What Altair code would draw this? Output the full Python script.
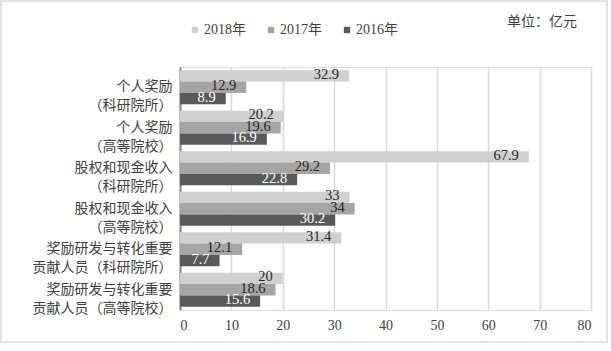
import altair as alt
import pandas as pd

categories = [
    "个人奖励\n（科研院所）",
    "个人奖励\n（高等院校）",
    "股权和现金收入\n（科研院所）",
    "股权和现金收入\n（高等院校）",
    "奖励研发与转化重要\n贡献人员（科研院所）",
    "奖励研发与转化重要\n贡献人员（高等院校）",
]
series = ["2018年", "2017年", "2016年"]
v2018 = [32.9, 20.2, 67.9, 33, 31.4, 20]
v2017 = [12.9, 19.6, 29.2, 34, 12.1, 18.6]
v2016 = [8.9, 16.9, 22.8, 30.2, 7.7, 15.6]
colors = ["#d0d0d0", "#a5a5a5", "#595959"]
x_ticks = [0, 10, 20, 30, 40, 50, 60, 70, 80]
unit_text = ["单位：亿元"]

rows = []
for s, vals in zip(series, [v2018, v2017, v2016]):
    for c, v in zip(categories, vals):
        rows.append({"category": c, "series": s, "value": v, "label": f"{v:g}"})
df = pd.DataFrame(rows)

FONT = '"Liberation Serif", "Noto Sans CJK SC", serif'
TXT = "#404040"

label_expr = (
    "[split(datum.label,'\\n')[0] + "
    "(length(split(datum.label,'\\n')[0]) < length(split(datum.label,'\\n')[1]) ? '\u3000' : ''), "
    "split(datum.label,'\\n')[1]]"
)

y_enc = alt.Y(
    "category:N",
    sort=categories,
    scale=alt.Scale(paddingInner=0.16, paddingOuter=0.08),
    axis=alt.Axis(
        title=None,
        labelExpr=label_expr,
        labelFontSize=14,
        labelLineHeight=19,
        labelPadding=8,
        labelColor=TXT,
        labelFont=FONT,
        labelLimit=300,
        ticks=False,
        grid=False,
        domain=True,
        domainColor="#868686",
        domainWidth=2,
    ),
)
x_enc = alt.X(
    "value:Q",
    scale=alt.Scale(domain=[0, 80], nice=False),
    axis=alt.Axis(
        title=None,
        values=x_ticks,
        grid=True,
        gridColor="#d9d9d9",
        gridWidth=1.5,
        domain=False,
        ticks=False,
        labelFontSize=14,
        labelColor=TXT,
        labelFont=FONT,
        labelPadding=8,
    ),
)
yoff = alt.YOffset("series:N", sort=series)

frame = alt.Chart(pd.DataFrame({"a": [0]})).mark_rect(
    fill="white", fillOpacity=0, stroke="#d9d9d9", strokeWidth=1.5
).encode(
    x=alt.value(-179), x2=alt.value(427), y=alt.value(-66), y2=alt.value(275)
)

unit = alt.Chart(pd.DataFrame({"t": unit_text})).mark_text(
    align="right", baseline="middle", fontSize=14, font=FONT, color=TXT
).encode(text="t:N", x=alt.value(397), y=alt.value(-45))

bars = alt.Chart(df).mark_bar().encode(
    x=x_enc,
    y=y_enc,
    yOffset=yoff,
    color=alt.Color(
        "series:N",
        scale=alt.Scale(domain=series, range=colors),
        legend=alt.Legend(
            title=None,
            orient="none",
            direction="horizontal",
            legendX=8,
            legendY=-44,
            symbolType="square",
            symbolSize=40,
            symbolStrokeWidth=0,
            labelFontSize=14,
            labelFont=FONT,
            labelColor=TXT,
            labelOffset=2,
            columnPadding=18,
        ),
    ),
)

labels = alt.Chart(df).mark_text(
    align="right", baseline="middle", dx=-10, dy=-1, fontSize=14.5, font=FONT
).encode(
    x="value:Q",
    y=alt.Y("category:N", sort=categories),
    yOffset=yoff,
    text="label:N",
    color=alt.condition("datum.series === '2016年'", alt.value("white"), alt.value("#262626")),
)

chart = (
    alt.layer(frame, bars, labels, unit)
    .properties(
        width=411,
        height=243,
        padding={"left": 180, "top": 67, "right": 20, "bottom": 41},
        autosize=alt.AutoSizeParams(type="none"),
    )
    .configure_view(stroke=None)
    .configure(background="white")
)

chart.save("out.html", embed_options={"renderer": "svg", "actions": False})
